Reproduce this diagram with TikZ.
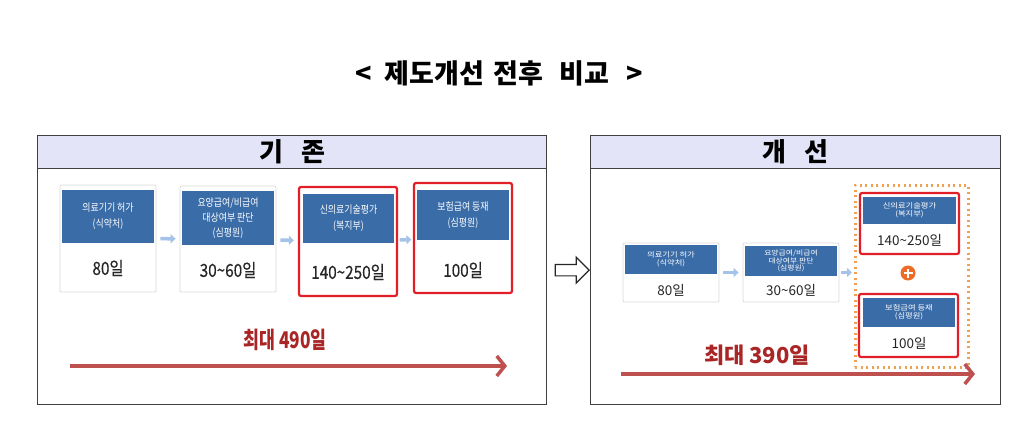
\documentclass[tikz,border=0pt]{standalone}
\usepackage{fontspec}
\setmainfont{Noto Sans CJK KR}
\newfontfamily\narrowkr[FakeStretch=0.85]{Noto Sans CJK KR}
\newfontfamily\dayskr[FakeStretch=0.85,FakeBold=0.4]{Noto Sans CJK KR}
\newfontfamily\widekr[FakeStretch=1.15]{Noto Sans CJK KR}
\newfontfamily\sumkr[FakeStretch=0.75]{Noto Sans CJK KR}
\usetikzlibrary{arrows.meta,shapes.arrows}
\definecolor{headblue}{RGB}{58,108,168}
\definecolor{boxred}{RGB}{226,30,40}
\definecolor{bandlav}{RGB}{228,228,248}
\definecolor{sumred}{RGB}{170,38,38}
\definecolor{linered}{RGB}{190,80,80}
\definecolor{flowblue}{RGB}{165,195,232}
\definecolor{dotorange}{RGB}{240,160,80}
\definecolor{plusorange}{RGB}{238,108,40}
\begin{document}
\begin{tikzpicture}[x=1pt,y=-1pt,
    panel/.style={draw=black!75,line width=1.3pt,inner sep=0,anchor=north west},
    band/.style={draw=black!75,line width=1.3pt,fill=bandlav,inner sep=0,anchor=north west,
      font=\bfseries\fontsize{26}{26}\selectfont},
    card/.style={draw=black!15,fill=white,line width=0.8pt,inner sep=0,rounded corners=1pt},
    redcard/.style={draw=boxred,fill=white,line width=2.2pt,inner sep=0,rounded corners=2pt},
    head/.style={fill=headblue,text=white,inner sep=0,align=center,
      font=\narrowkr\fontsize{10.5}{16}\selectfont},
    smallhead/.style={head,font=\widekr\fontsize{7.2}{8.2}\selectfont},
    days/.style={inner sep=0,text=black!85,font=\dayskr\fontsize{18}{18}\selectfont},
    smalldays/.style={inner sep=0,text=black!85,font=\fontsize{13.5}{14}\selectfont},
    flow/.style={line width=3.5pt,flowblue,-{Triangle[length=5pt,width=9pt]},
      shorten <=4pt,shorten >=4pt},
    spanline/.style={line width=3.5pt,linered,-{Straight Barb[length=8pt,width=20pt]}},
    total/.style={inner sep=0,text=sumred}]
  \useasboundingbox (0,0) rectangle (1024,433);

  % title
  \node[font=\bfseries\fontsize{27}{27}\selectfont] (title) at (499,73)
    {<\hspace{13pt}제도개선\hspace{10pt}전후\hspace{16pt}비교\hspace{17pt}>};

  % before
  \node[band,minimum width=509,minimum height=33] (oldband) at (37,135) {기\hspace{18pt}존};
  \node[panel,minimum width=509,minimum height=269] (oldpanel) at (37,135) {};

  \node[card,minimum width=96,minimum height=107] (c1) at (108,238.5) {};
  \node[head,minimum width=92,minimum height=53] (h1) at (108,216.5) {의료기기 허가\\(식약처)};
  \node[days] (v1) at (108,268) {80일};

  \node[card,minimum width=96,minimum height=106] (c2) at (228,239) {};
  \node[head,minimum width=92,minimum height=54,font=\narrowkr\fontsize{10.5}{15}\selectfont]
    (h2) at (228,218) {요양급여/비급여\\대상여부 판단\\(심평원)};
  \node[days] (v2) at (228,270) {30\textasciitilde 60일};

  \node[redcard,minimum width=98,minimum height=109] (c3) at (348,241.5) {};
  \node[head,minimum width=91,minimum height=49] (h3) at (348.5,218.5) {신의료기술평가\\(복지부)};
  \node[days] (v3) at (348,272) {140\textasciitilde 250일};

  \node[redcard,minimum width=98,minimum height=110] (c4) at (463,238) {};
  \node[head,minimum width=92,minimum height=50] (h4) at (463,215) {보험급여 등재\\(심평원)};
  \node[days] (v4) at (463,270) {100일};

  \draw[flow] (c1) -- (c2);
  \draw[flow] (c2) -- (c3);
  \draw[flow,shorten <=1.5pt,shorten >=1.5pt] (c3) -- (c4);

  \node[total,font=\sumkr\bfseries\fontsize{23}{23}\selectfont] (oldtotal) at (285,340) {최대 490일};
  \coordinate (oldfrom) at (70,366);
  \coordinate (oldto) at (507,366);
  \draw[spanline] (oldfrom) -- (oldto);

  % after
  \node[band,minimum width=410,minimum height=33] (newband) at (590,135) {개\hspace{18pt}선};
  \node[panel,minimum width=410,minimum height=269] (newpanel) at (590,135) {};

  \node[single arrow,draw=black!85,fill=white,line width=1.2pt,inner sep=5pt,
    minimum width=26pt,minimum height=34pt,anchor=tip] (shift) at (newpanel.west) {};

  \node[card,minimum width=96,minimum height=59] (r1) at (671,272.5) {};
  \node[smallhead,minimum width=92,minimum height=29] (g1) at (671,259.5) {의료기기 허가\\(식약처)};
  \node[smalldays] (w1) at (671,290) {80일};

  \node[card,minimum width=96,minimum height=59] (r2) at (791,272.5) {};
  \node[smallhead,minimum width=92,minimum height=30,font=\widekr\fontsize{6.8}{7.6}\selectfont]
    (g2) at (791,261) {요양급여/비급여\\대상여부 판단\\(심평원)};
  \node[smalldays] (w2) at (791,290) {30\textasciitilde 60일};

  \node[draw=dotorange,line width=2.5pt,dash pattern=on 2pt off 3.5pt,inner sep=0,
    minimum width=113,minimum height=182,anchor=north west] (pair) at (854,184) {};

  \node[redcard,minimum width=99,minimum height=61] (r3) at (909.5,223.5) {};
  \node[smallhead,minimum width=93,minimum height=27] (g3) at (909.5,210.5) {신의료기술평가\\(복지부)};
  \node[smalldays] (w3) at (909.5,240) {140\textasciitilde 250일};

  \node[circle,fill=plusorange,minimum size=15pt,inner sep=0] (plus) at (908,273) {};
  \draw[white,line width=2.6pt] ([xshift=-4.5pt]plus.center) -- ([xshift=4.5pt]plus.center);
  \draw[white,line width=2.6pt] ([yshift=-4.5pt]plus.center) -- ([yshift=4.5pt]plus.center);

  \node[redcard,minimum width=99,minimum height=63] (r4) at (908.5,325.5) {};
  \node[smallhead,minimum width=92,minimum height=29] (g4) at (909,312.5) {보험급여 등재\\(심평원)};
  \node[smalldays] (w4) at (909,343) {100일};

  \draw[flow] (r1) -- (r2);
  \draw[flow,shorten <=2pt,shorten >=2pt] (r2.east) -- (r2.east -| pair.west);

  \node[total,font=\bfseries\fontsize{22}{22}\selectfont] (newtotal) at (757,355) {최대 390일};
  \coordinate (newfrom) at (621,374);
  \coordinate (newto) at (975,374);
  \draw[spanline] (newfrom) -- (newto);
\end{tikzpicture}
\end{document}
